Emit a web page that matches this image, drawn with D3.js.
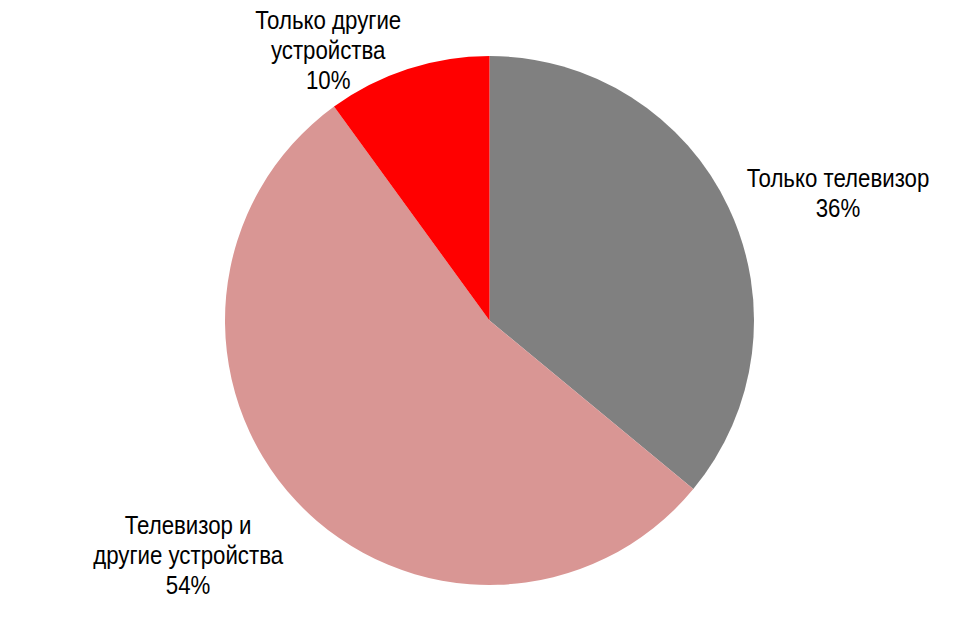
<!DOCTYPE html>
<html>
<head>
<meta charset="utf-8">
<script src="https://cdn.jsdelivr.net/npm/d3@7"></script>
<style>
  body { margin: 0; background: #fff; }
  #corpo { width: 979px; height: 640px; }
</style>
</head>
<body>
<div id="corpo"></div>
<script>
// data
var categorias = ["Только телевизор", "Телевизор и другие устройства", "Только другие устройства"];
var valores = [36, 54, 10];
var rotulos = [["Только телевизор", "36%"], ["Телевизор и", "другие устройства", "54%"], ["Только другие", "устройства", "10%"]];
var cores = ["#808080", "#D99694", "#FF0000"];

// label placement (angle nudge in degrees, radius factor)
var labelNudge = [5.1, 5.3, -12.8];
var labelRadius = [1.403, 1.444, 1.191];

var width = 979, height = 640;
var cx = 489.5, cy = 320.5;
var radius = 264.5;

var svg = d3.select("#corpo").append("svg")
    .attr("width", width)
    .attr("height", height)
    .append("g")
    .attr("transform", "translate(" + cx + "," + cy + ")");

var pie = d3.pie()
    .sort(null)
    .value(function(d) { return d; })(valores);

var arc = d3.arc()
    .outerRadius(radius)
    .innerRadius(0);

var g = svg.selectAll(".arc")
    .data(pie)
    .enter().append("g")
    .attr("class", "arc");

g.append("path")
    .attr("d", arc)
    .style("fill", function(d, i) { return cores[i]; });

// no narrow font installed, so squeeze a regular one
var text = svg.selectAll(".rotulo")
    .data(pie)
    .enter().append("text")
    .attr("class", "rotulo")
    .attr("text-anchor", "middle")
    .style("font-family", "'Liberation Sans', Arial, sans-serif")
    .style("font-size", "25px")
    .style("fill", "#000")
    .attr("transform", function(d, i) {
        var a = (d.startAngle + d.endAngle) / 2 + labelNudge[i] * Math.PI / 180;
        var r = radius * labelRadius[i];
        return "translate(" + (r * Math.sin(a)) + "," + (-r * Math.cos(a)) + ") scale(0.89,1)";
    });

text.each(function(d, i) {
    var linhas = rotulos[i];
    var t = d3.select(this);
    linhas.forEach(function(l, j) {
        t.append("tspan")
            .attr("x", 0)
            .attr("y", 9 - (linhas.length - 1) * 15 + j * 30)
            .text(l);
    });
});
</script>
</body>
</html>
